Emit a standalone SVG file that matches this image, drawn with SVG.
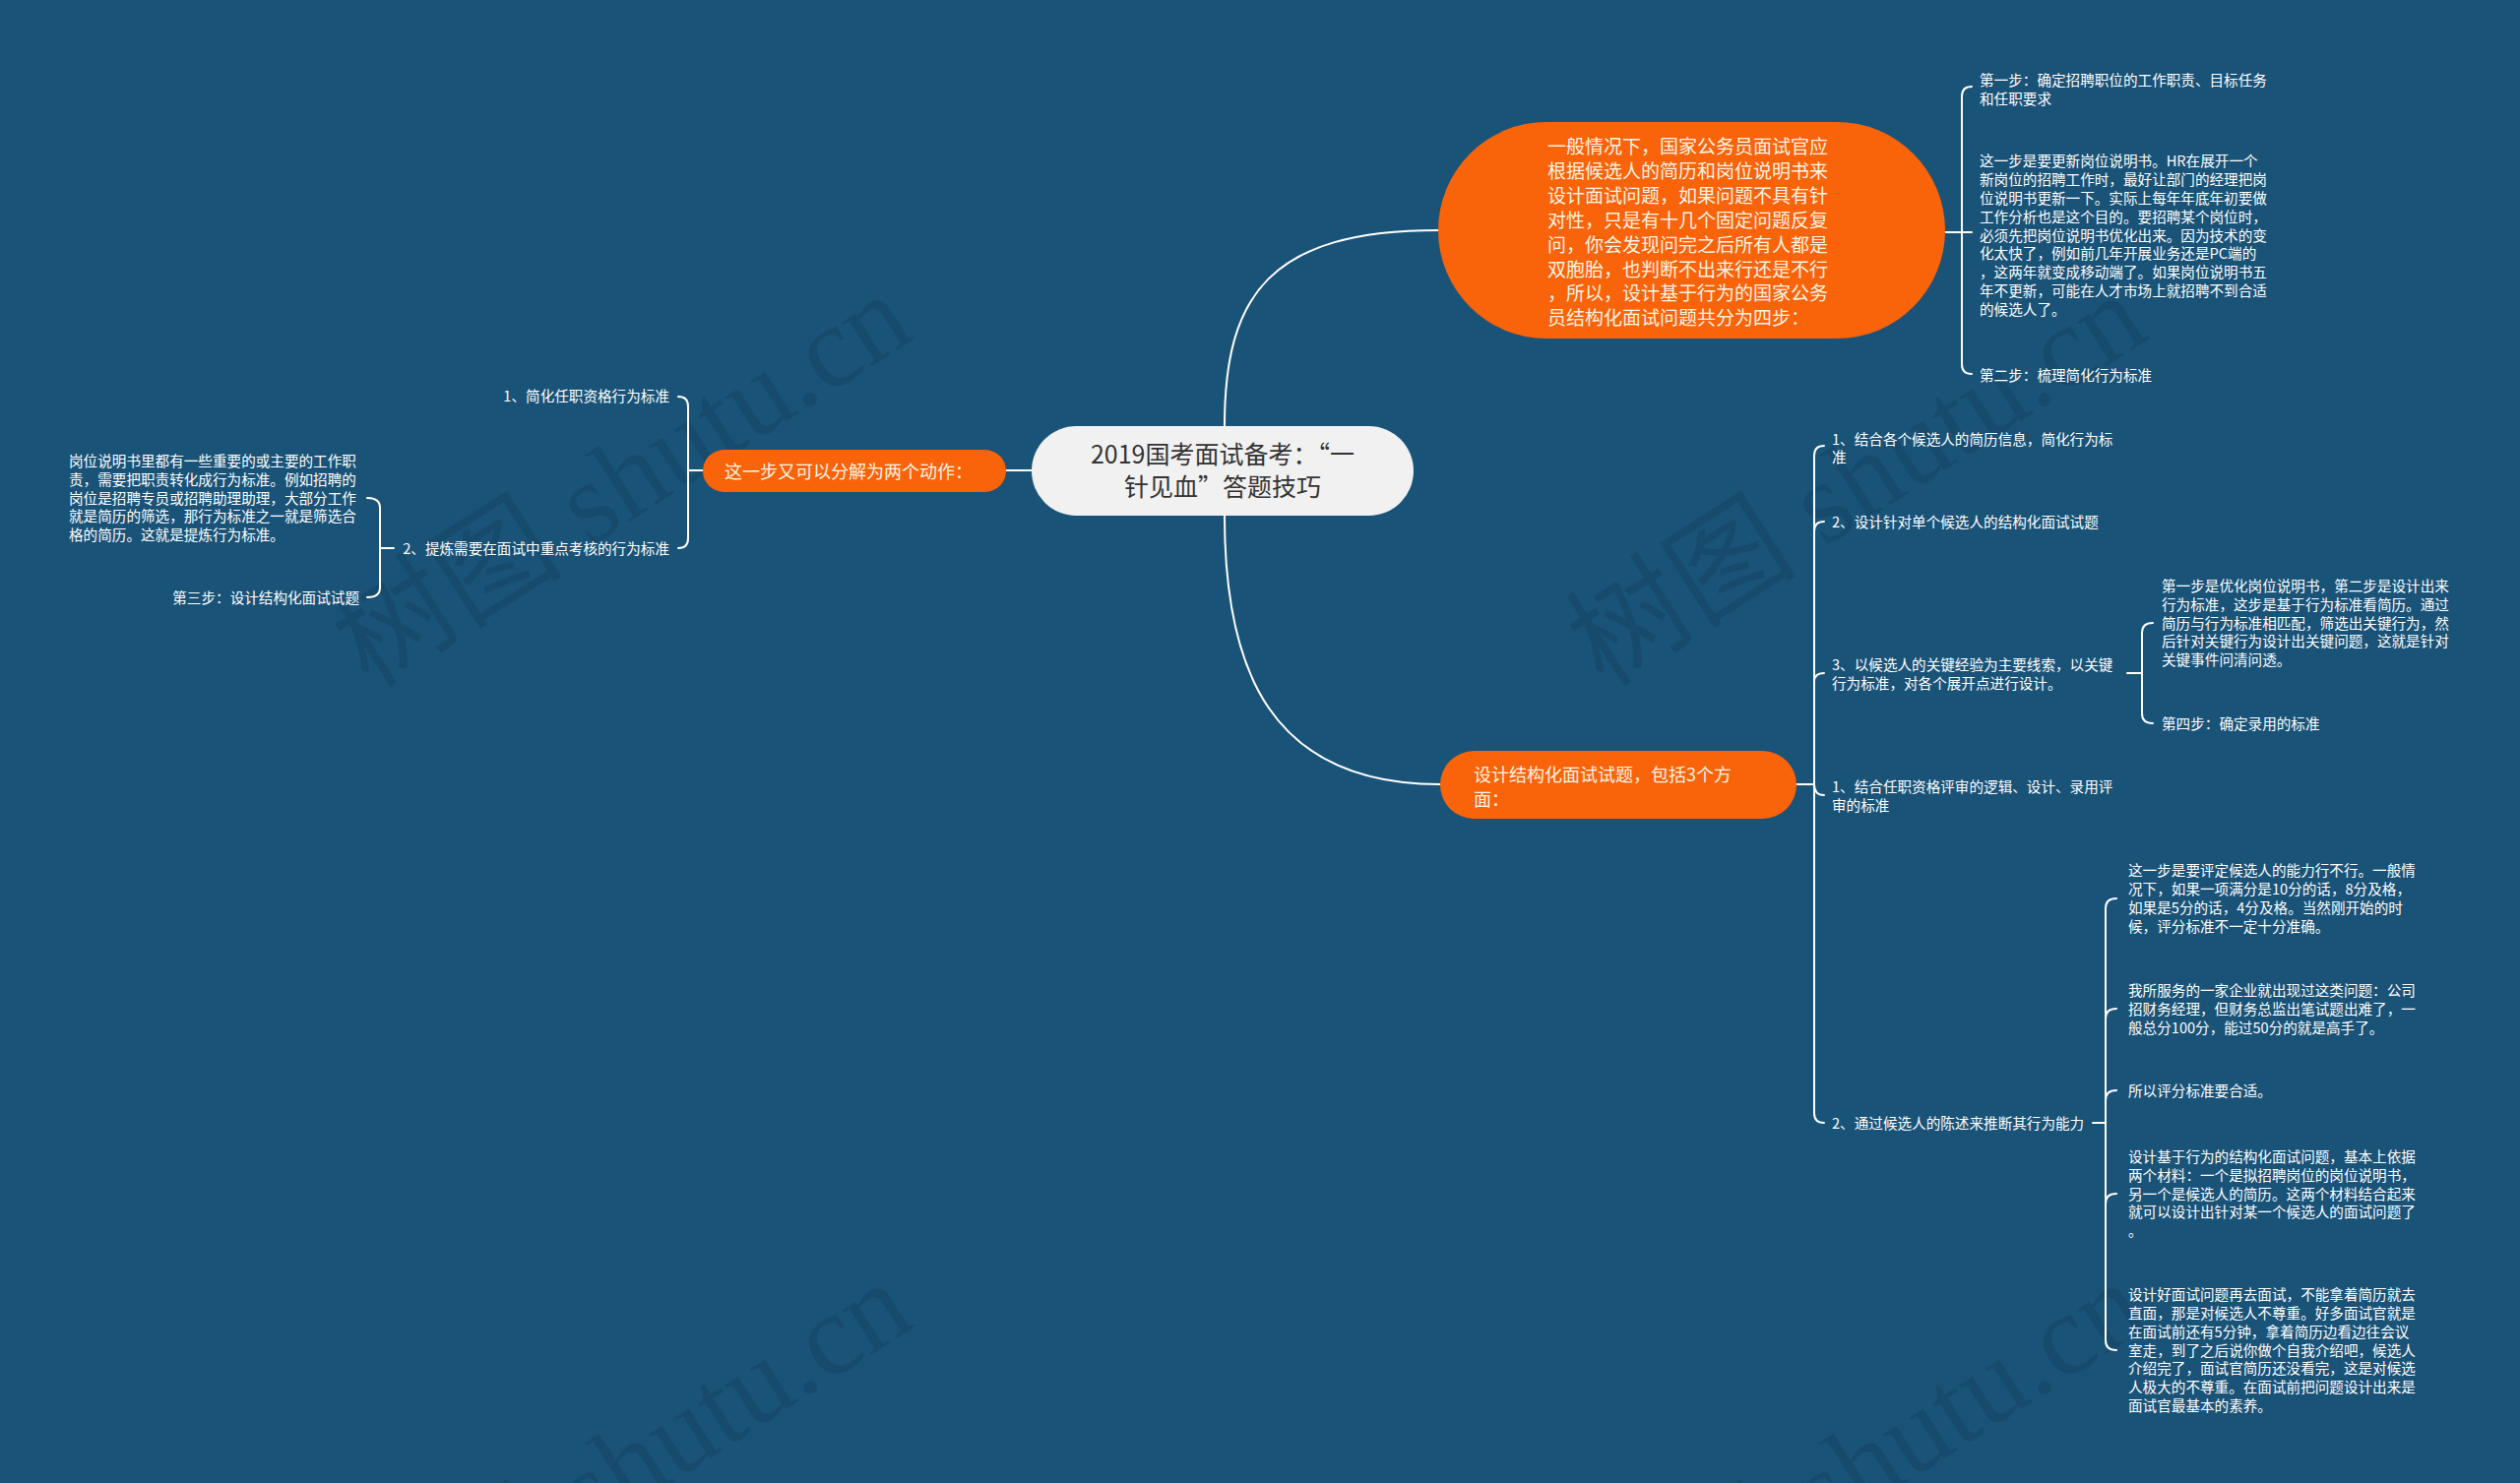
<svg xmlns="http://www.w3.org/2000/svg" width="2560" height="1507" viewBox="0 0 2560 1507">
<style>
.t{font-family:"Noto Sans CJK SC","Noto Sans",sans-serif;font-size:14.6px;fill:#ffffff}
.r{text-anchor:end}
.o{font-family:"Noto Sans CJK SC","Noto Sans",sans-serif;font-size:19px;fill:#fff3e4}
.o18{font-size:18px}
.c{font-family:"Noto Sans CJK SC","Noto Sans",sans-serif;font-size:25px;fill:#333333;text-anchor:middle}
.ln{fill:none;stroke:#ffffff;stroke-width:2;stroke-linecap:round}
.onode{fill:#f9630a}
.cnode{fill:#f1f1f1}
.wm{font-family:"Liberation Serif","Noto Sans CJK SC",serif;font-size:118px;fill:#000000;fill-opacity:0.09}
</style>
<rect width="2560" height="1507" fill="#1a5378"/>

<g id="watermarks">
<text class="wm" transform="translate(375,700) rotate(-32.7)">树图 shutu.cn</text>
<text class="wm" transform="translate(1629,700) rotate(-32.7)">树图 shutu.cn</text>
<text class="wm" transform="translate(375,1704) rotate(-32.7)">树图 shutu.cn</text>
<text class="wm" transform="translate(1629,1704) rotate(-32.7)">树图 shutu.cn</text>
</g>

<g id="connectors">
<path class="ln" d="M1244,433 C1244,300 1290,234 1461,234"/>
<path class="ln" d="M1244,524 C1244,680 1290,797 1463,797"/>
<path class="ln" d="M1048,478 H1022"/>
<!-- top-right bracket -->
<path class="ln" d="M1976,236 H2003"/>
<path class="ln" d="M2003,88 Q1993,88 1993,98 V370 Q1993,380 2003,380"/>
<!-- bottom-right main bracket -->
<path class="ln" d="M1824,797 H1843"/>
<path class="ln" d="M1853,453 Q1843,453 1843,463 V1131 Q1843,1141 1853,1141"/>
<path class="ln" d="M1843,540 Q1843,530 1853,530"/>
<path class="ln" d="M1843,693 Q1843,684 1853,684"/>
<path class="ln" d="M1843,797 Q1843,808 1853,808"/>
<!-- child 3 sub bracket -->
<path class="ln" d="M2161,684 H2176"/>
<path class="ln" d="M2187,633 Q2176,633 2176,643 V725 Q2176,735 2187,735"/>
<!-- child 5 sub bracket -->
<path class="ln" d="M2126,1141 H2139"/>
<path class="ln" d="M2150,913 Q2139,913 2139,923 V1362 Q2139,1372 2150,1372"/>
<path class="ln" d="M2139,1035 Q2139,1025 2150,1025"/>
<path class="ln" d="M2139,1118 Q2139,1108 2150,1108"/>
<path class="ln" d="M2139,1223 Q2139,1213 2150,1213"/>
<!-- left bracket -->
<path class="ln" d="M714,478 H699"/>
<path class="ln" d="M689,403 Q699,403 699,413 V547 Q699,557 689,557"/>
<!-- left sub bracket -->
<path class="ln" d="M400,557 H386"/>
<path class="ln" d="M373,506 Q386,506 386,516 V597 Q386,607 373,607"/>
</g>

<g id="center">
<rect class="cnode" x="1048" y="433" width="388" height="91" rx="45.5"/>
<text class="c"><tspan x="1242" y="470.5">2019国考面试备考：“一</tspan><tspan x="1242" y="503.5">针见血”答题技巧</tspan></text>
</g>

<g id="node-top">
<rect class="onode" x="1461" y="124" width="515" height="220" rx="110"/>
<text class="o">
<tspan x="1572" y="156">一般情况下，国家公务员面试官应</tspan>
<tspan x="1572" y="180.9">根据候选人的简历和岗位说明书来</tspan>
<tspan x="1572" y="205.8">设计面试问题，如果问题不具有针</tspan>
<tspan x="1572" y="230.7">对性，只是有十几个固定问题反复</tspan>
<tspan x="1572" y="255.6">问，你会发现问完之后所有人都是</tspan>
<tspan x="1572" y="280.5">双胞胎，也判断不出来行还是不行</tspan>
<tspan x="1572" y="305.4">，所以，设计基于行为的国家公务</tspan>
<tspan x="1572" y="330.3">员结构化面试问题共分为四步：</tspan>
</text>
</g>

<g id="node-step1">
<text class="t"><tspan x="2011" y="87.1">第一步：确定招聘职位的工作职责、目标任务</tspan><tspan x="2011" y="105.9">和任职要求</tspan></text>
</g>
<g id="node-step1-detail">
<text class="t">
<tspan x="2011" y="169.3">这一步是要更新岗位说明书。HR在展开一个</tspan>
<tspan x="2011" y="188.1">新岗位的招聘工作时，最好让部门的经理把岗</tspan>
<tspan x="2011" y="206.9">位说明书更新一下。实际上每年年底年初要做</tspan>
<tspan x="2011" y="225.7">工作分析也是这个目的。要招聘某个岗位时，</tspan>
<tspan x="2011" y="244.5">必须先把岗位说明书优化出来。因为技术的变</tspan>
<tspan x="2011" y="263.3">化太快了，例如前几年开展业务还是PC端的</tspan>
<tspan x="2011" y="282.1">，这两年就变成移动端了。如果岗位说明书五</tspan>
<tspan x="2011" y="300.9">年不更新，可能在人才市场上就招聘不到合适</tspan>
<tspan x="2011" y="319.7">的候选人了。</tspan>
</text>
</g>
<g id="node-step2">
<text class="t"><tspan x="2011" y="386.5">第二步：梳理简化行为标准</tspan></text>
</g>

<g id="node-left">
<rect class="onode" x="714" y="457" width="308" height="43" rx="21.5"/>
<text class="o o18"><tspan x="736" y="485.5">这一步又可以分解为两个动作：</tspan></text>
</g>
<g id="node-l1">
<text class="t r"><tspan x="680" y="407.5">1、简化任职资格行为标准</tspan></text>
</g>
<g id="node-l2">
<text class="t r"><tspan x="680" y="562.5">2、提炼需要在面试中重点考核的行为标准</tspan></text>
</g>
<g id="node-l2a">
<text class="t">
<tspan x="70" y="473.9">岗位说明书里都有一些重要的或主要的工作职</tspan>
<tspan x="70" y="492.7">责，需要把职责转化成行为标准。例如招聘的</tspan>
<tspan x="70" y="511.5">岗位是招聘专员或招聘助理助理，大部分工作</tspan>
<tspan x="70" y="530.3">就是简历的筛选，那行为标准之一就是筛选合</tspan>
<tspan x="70" y="549.1">格的简历。这就是提炼行为标准。</tspan>
</text>
</g>
<g id="node-l2b">
<text class="t r"><tspan x="365" y="612.5">第三步：设计结构化面试试题</tspan></text>
</g>

<g id="node-bottom">
<rect class="onode" x="1463" y="763" width="362" height="69" rx="34.5"/>
<text class="o o18"><tspan x="1497" y="793.8">设计结构化面试试题，包括3个方</tspan><tspan x="1497" y="818.8">面：</tspan></text>
</g>
<g id="node-b1">
<text class="t"><tspan x="1861" y="451.6">1、结合各个候选人的简历信息，简化行为标</tspan><tspan x="1861" y="470.4">准</tspan></text>
</g>
<g id="node-b2">
<text class="t"><tspan x="1861" y="535.5">2、设计针对单个候选人的结构化面试试题</tspan></text>
</g>
<g id="node-b3">
<text class="t"><tspan x="1861" y="681.1">3、以候选人的关键经验为主要线索，以关键</tspan><tspan x="1861" y="699.9">行为标准，对各个展开点进行设计。</tspan></text>
</g>
<g id="node-b3a">
<text class="t">
<tspan x="2196" y="600.9">第一步是优化岗位说明书，第二步是设计出来</tspan>
<tspan x="2196" y="619.7">行为标准，这步是基于行为标准看简历。通过</tspan>
<tspan x="2196" y="638.5">简历与行为标准相匹配，筛选出关键行为，然</tspan>
<tspan x="2196" y="657.3">后针对关键行为设计出关键问题，这就是针对</tspan>
<tspan x="2196" y="676.1">关键事件问清问透。</tspan>
</text>
</g>
<g id="node-b3b">
<text class="t"><tspan x="2196" y="740.5">第四步：确定录用的标准</tspan></text>
</g>
<g id="node-b4">
<text class="t"><tspan x="1861" y="805.1">1、结合任职资格评审的逻辑、设计、录用评</tspan><tspan x="1861" y="823.9">审的标准</tspan></text>
</g>
<g id="node-b5">
<text class="t"><tspan x="1861" y="1146.5">2、通过候选人的陈述来推断其行为能力</tspan></text>
</g>
<g id="node-s1">
<text class="t">
<tspan x="2162" y="890.3">这一步是要评定候选人的能力行不行。一般情</tspan>
<tspan x="2162" y="909.1">况下，如果一项满分是10分的话，8分及格，</tspan>
<tspan x="2162" y="927.9">如果是5分的话，4分及格。当然刚开始的时</tspan>
<tspan x="2162" y="946.7">候，评分标准不一定十分准确。</tspan>
</text>
</g>
<g id="node-s2">
<text class="t">
<tspan x="2162" y="1012.2">我所服务的一家企业就出现过这类问题：公司</tspan>
<tspan x="2162" y="1031">招财务经理，但财务总监出笔试题出难了，一</tspan>
<tspan x="2162" y="1049.8">般总分100分，能过50分的就是高手了。</tspan>
</text>
</g>
<g id="node-s3">
<text class="t"><tspan x="2162" y="1113.5">所以评分标准要合适。</tspan></text>
</g>
<g id="node-s4">
<text class="t">
<tspan x="2162" y="1180.9">设计基于行为的结构化面试问题，基本上依据</tspan>
<tspan x="2162" y="1199.7">两个材料：一个是拟招聘岗位的岗位说明书，</tspan>
<tspan x="2162" y="1218.5">另一个是候选人的简历。这两个材料结合起来</tspan>
<tspan x="2162" y="1237.3">就可以设计出针对某一个候选人的面试问题了</tspan>
<tspan x="2162" y="1256.1">。</tspan>
</text>
</g>
<g id="node-s5">
<text class="t">
<tspan x="2162" y="1321.1">设计好面试问题再去面试，不能拿着简历就去</tspan>
<tspan x="2162" y="1339.9">直面，那是对候选人不尊重。好多面试官就是</tspan>
<tspan x="2162" y="1358.7">在面试前还有5分钟，拿着简历边看边往会议</tspan>
<tspan x="2162" y="1377.5">室走，到了之后说你做个自我介绍吧，候选人</tspan>
<tspan x="2162" y="1396.3">介绍完了，面试官简历还没看完，这是对候选</tspan>
<tspan x="2162" y="1415.1">人极大的不尊重。在面试前把问题设计出来是</tspan>
<tspan x="2162" y="1433.9">面试官最基本的素养。</tspan>
</text>
</g>
</svg>
